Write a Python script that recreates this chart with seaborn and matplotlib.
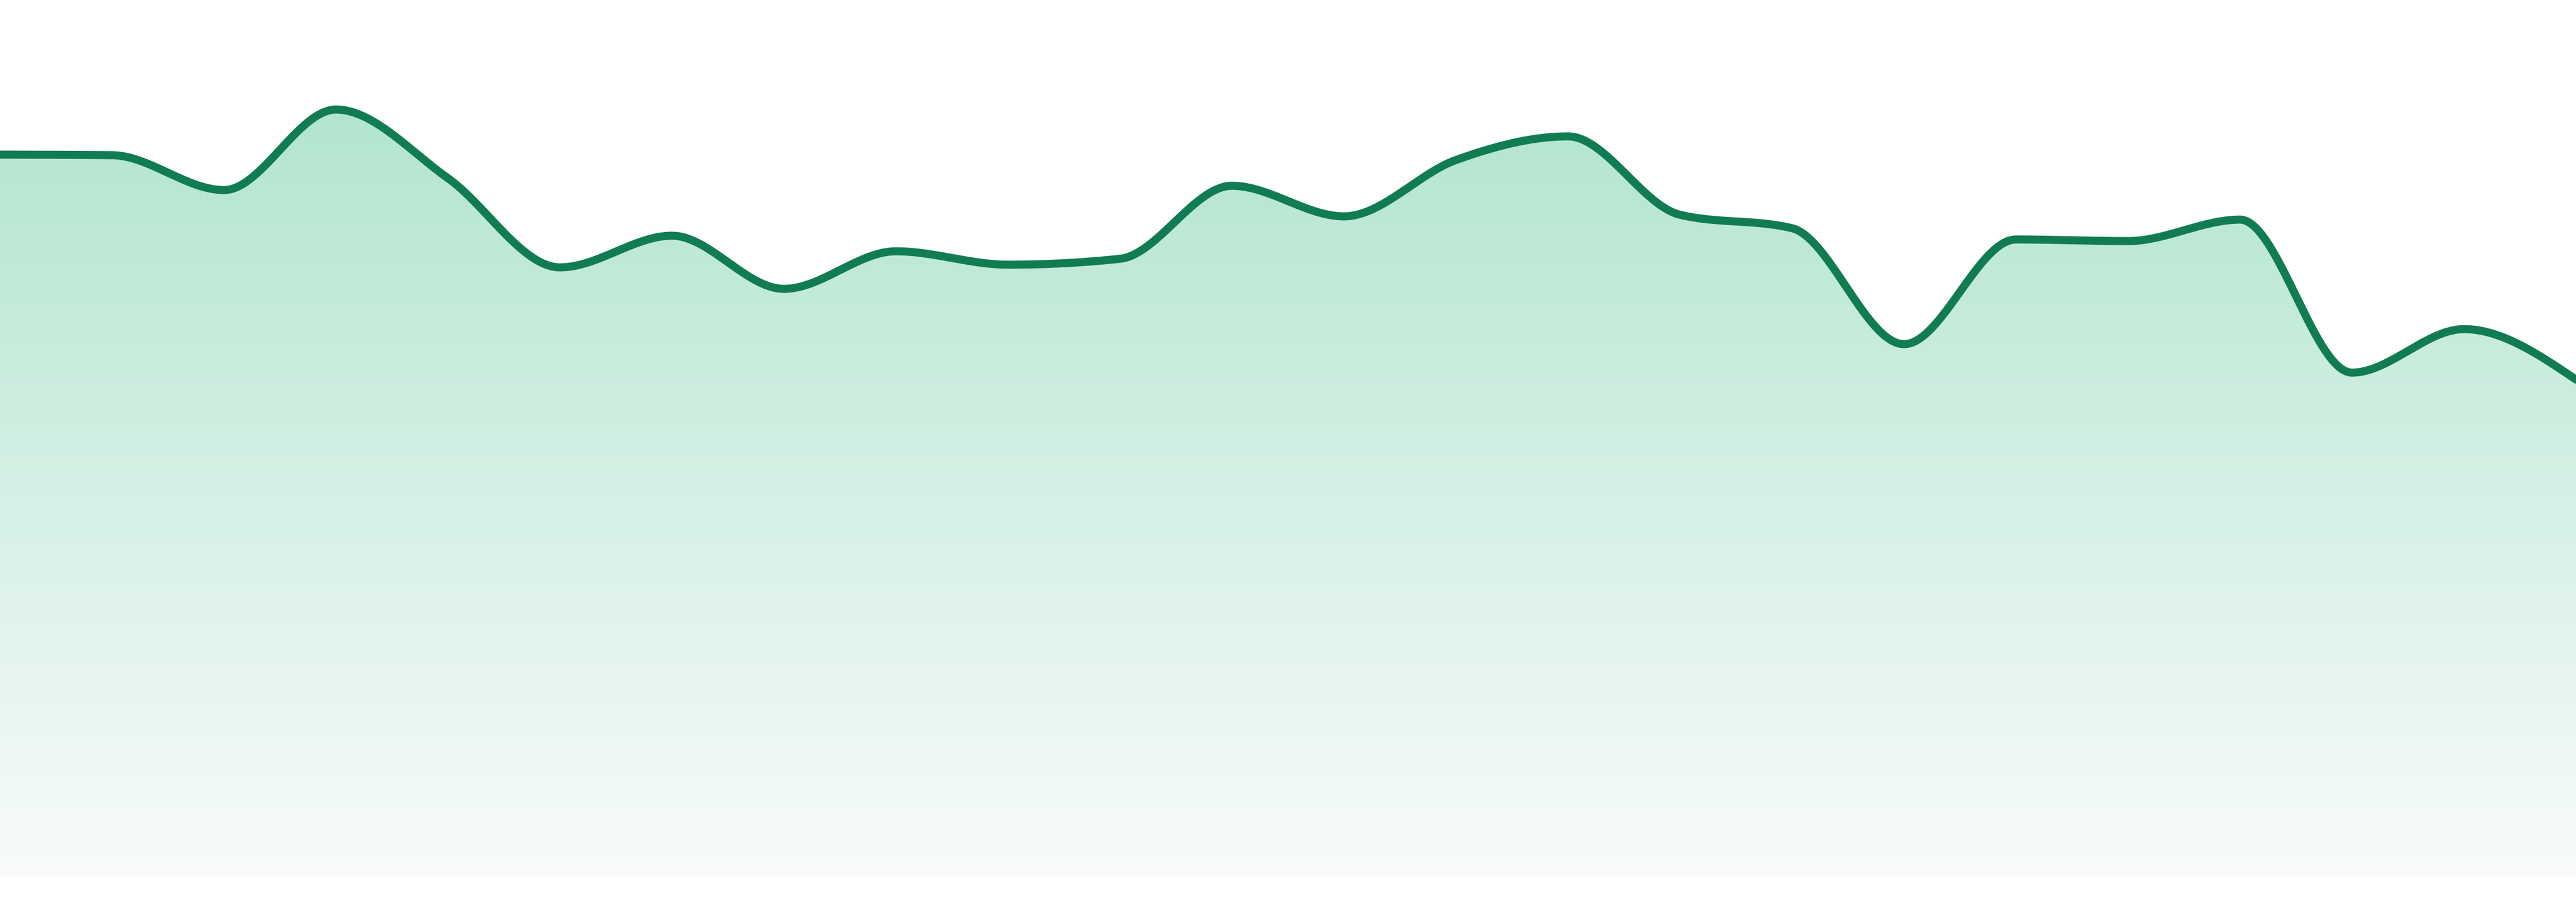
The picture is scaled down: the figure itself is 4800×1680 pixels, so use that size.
import numpy as np
import matplotlib.pyplot as plt
import seaborn as sns
from matplotlib.colors import LinearSegmentedColormap

# Values: 24 evenly spaced points, fill baseline at 0
steps = list(range(24))
values = [134.4, 134.3, 127.8, 142.8, 130.0, 113.4, 119.3, 109.4, 116.4, 113.9,
          115.0, 128.6, 122.9, 133.4, 137.8, 123.2, 120.7, 99.1, 118.6, 118.3,
          122.3, 93.8, 101.9, 92.5]

line_color = '#117c52'
fill_top = '#a8e2c9'
fill_bottom = '#f8fbfa'


def monotone_x(x, y, n=60):
    # monotone cubic through the points (same tangents as d3.curveMonotoneX)
    x = np.asarray(x, dtype=float)
    y = np.asarray(y, dtype=float)
    h = np.diff(x)
    s = np.diff(y) / h
    t = np.zeros_like(y)
    for i in range(1, len(y) - 1):
        s0, s1 = s[i - 1], s[i]
        p = (s0 * h[i] + s1 * h[i - 1]) / (h[i - 1] + h[i])
        sg = (1 if s0 >= 0 else -1) + (1 if s1 >= 0 else -1)
        t[i] = sg * min(abs(s0), abs(s1), 0.5 * abs(p))
    t[0] = (3 * s[0] - t[1]) / 2
    t[-1] = (3 * s[-1] - t[-2]) / 2

    xs, ys = [], []
    u = np.linspace(0, 1, n, endpoint=False)
    for i in range(len(y) - 1):
        h00 = 2 * u**3 - 3 * u**2 + 1
        h10 = u**3 - 2 * u**2 + u
        h01 = -2 * u**3 + 3 * u**2
        h11 = u**3 - u**2
        xs.append(x[i] + u * h[i])
        ys.append(h00 * y[i] + h10 * h[i] * t[i] + h01 * y[i + 1] + h11 * h[i] * t[i + 1])
    xs.append([x[-1]])
    ys.append([y[-1]])
    return np.concatenate(xs), np.concatenate(ys)


sns.set_style('white')

fig = plt.figure(figsize=(16, 5.6), dpi=300)
ax = fig.add_axes([0, 0, 1, 1])

x_smooth, y_smooth = monotone_x(steps, values)
y_lo, y_hi = -4.8, 163.2

# gradient fill under the curve
poly = ax.fill_between(x_smooth, 0, y_smooth, color='none', linewidth=0)
cmap = LinearSegmentedColormap.from_list('mint', [fill_bottom, fill_top])
grad = np.linspace(1, 0, 512).reshape(-1, 1)
im = ax.imshow(grad, cmap=cmap, vmin=0, vmax=1, aspect='auto',
               extent=[steps[0], steps[-1], 0, y_hi], origin='upper', zorder=1)
im.set_clip_path(poly.get_paths()[0], transform=ax.transData)

sns.lineplot(x=x_smooth, y=y_smooth, ax=ax, color=line_color, linewidth=3.6,
             sort=False, estimator=None, zorder=3)

ax.set_xlim(steps[0], steps[-1])
ax.set_ylim(y_lo, y_hi)
ax.axis('off')

fig.savefig('out.png', dpi=300)
